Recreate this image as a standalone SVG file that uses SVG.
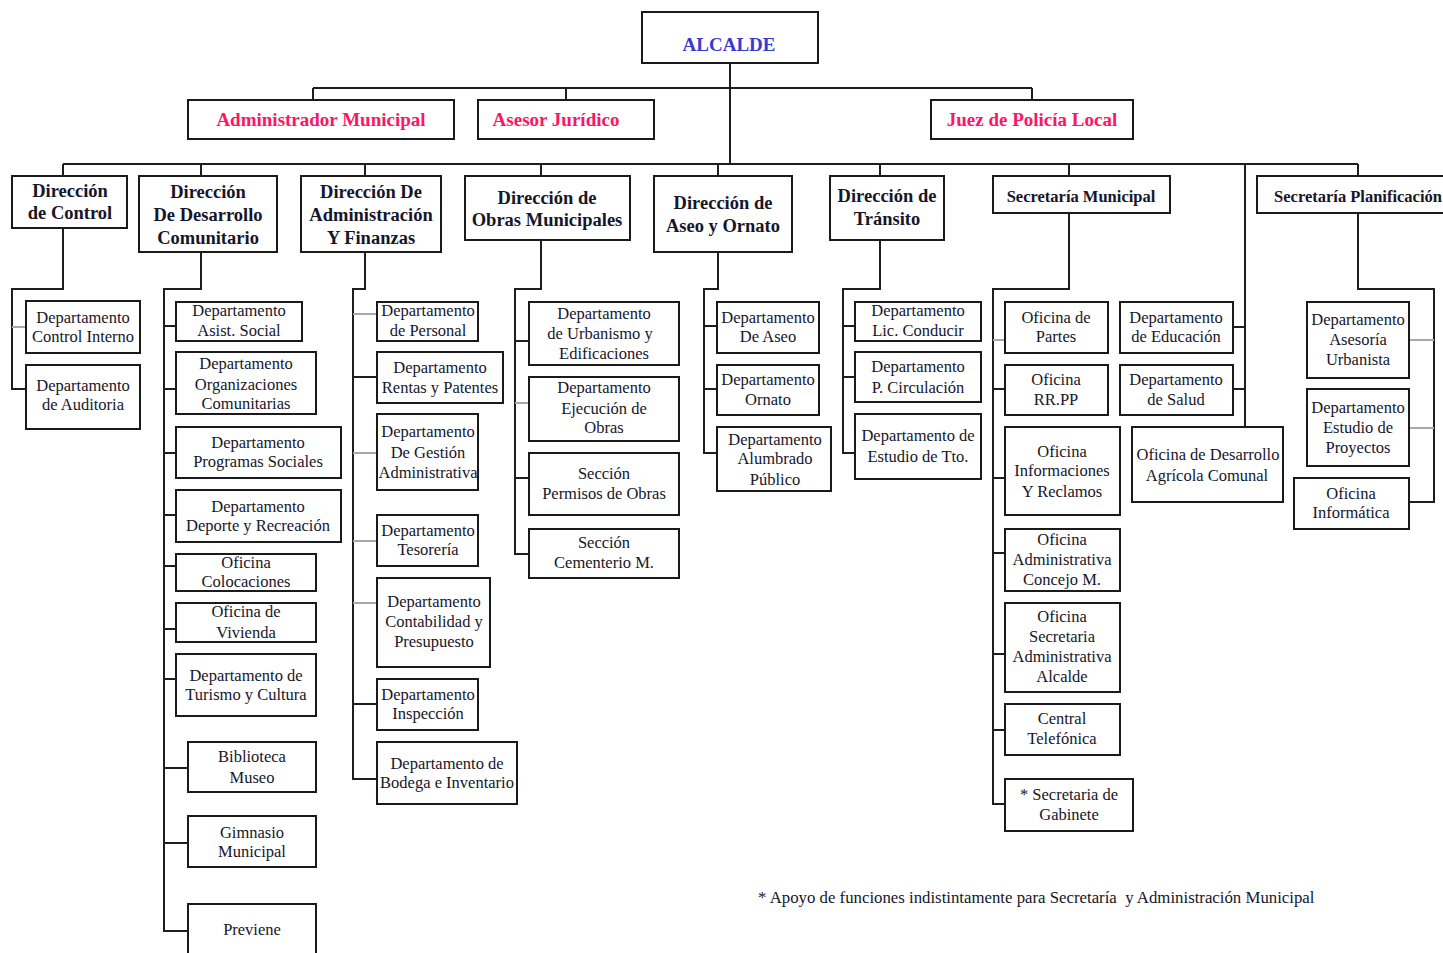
<svg xmlns="http://www.w3.org/2000/svg" width="1443" height="953" viewBox="0 0 1443 953">
<style>
.b{fill:#fff;stroke:#1a1a1a;stroke-width:2}
.t{font-family:"Liberation Serif","Times New Roman",serif;font-size:16.5px;fill:#16162a;text-anchor:middle}
.h{font-family:"Liberation Serif","Times New Roman",serif;font-size:18.5px;font-weight:bold;fill:#16162a;text-anchor:middle}
.s{font-family:"Liberation Serif","Times New Roman",serif;font-size:16.5px;font-weight:bold;fill:#16162a;text-anchor:middle}
.r{font-family:"Liberation Serif","Times New Roman",serif;font-size:19px;font-weight:bold;fill:#ff1466;text-anchor:middle}
.a{font-family:"Liberation Serif","Times New Roman",serif;font-size:19px;font-weight:bold;fill:#3a3ad0;text-anchor:middle}
.f{font-family:"Liberation Serif","Times New Roman",serif;font-size:16.8px;fill:#16162a}
.c{fill:none;stroke:#1e1e1e;stroke-width:2}
.g{fill:none;stroke:#a8a8a8;stroke-width:2}
</style>
<rect width="1443" height="953" fill="#fff"/>
<g id="connectors">
<path class="c" d="M730 63V164M313 88H1032M313 88V100M566 88V100M1032 88V100"/>
<path class="c" d="M63 164H1358M63 164V176M201 164V176M365 164V176M541 164V176M718 164V176M880 164V176M1069 164V176M1358 164V176M1245 164V427"/>
<path class="c" d="M63 228V289H12V389H26"/>
<path class="g" d="M12 327H26"/>
<path class="c" d="M201 252V289H164V931H188M164 326H176M164 389H176M164 453H176M164 515H176M164 566H176M164 629H176M164 679H176M164 768H188M164 843H188"/>
<path class="c" d="M365 252V289H353V779H377M353 377H377M353 704H377"/>
<path class="g" d="M353 314H377M353 453H377M353 541H377M353 603H377"/>
<path class="c" d="M541 240V289H515V554H529M515 341H529M515 478H529"/>
<path class="g" d="M515 403H529"/>
<path class="c" d="M718 252V289H704V453H717M704 326H717M704 389H717"/>
<path class="c" d="M880 240V289H843V453H855M843 326H855M843 377H855"/>
<path class="c" d="M1069 213V289H993V804H1005M993 389H1005M993 478H1005M993 553H1005M993 654H1005M993 730H1005"/>
<path class="g" d="M993 340H1005"/>
<path class="c" d="M1233 327H1245M1233 389H1245"/>
<path class="c" d="M1358 213V289H1434V502H1409"/>
<path class="g" d="M1434 340H1409M1434 428H1409"/>
</g>
<g id="alcalde"><rect class="b" x="642" y="12" width="176" height="51"/><text class="a" x="729" y="51">ALCALDE</text></g>
<g id="administrador"><rect class="b" x="188" y="100" width="266" height="39"/><text class="r" x="321" y="126">Administrador Municipal</text></g>
<g id="asesor"><rect class="b" x="478" y="100" width="176" height="39"/><text class="r" x="556" y="126">Asesor Jurídico</text></g>
<g id="juez"><rect class="b" x="931" y="100" width="202" height="39"/><text class="r" x="1032" y="126">Juez de Policía Local</text></g>
<g id="dir-control"><rect class="b" x="12" y="176" width="115" height="52"/><text class="h"><tspan x="70" y="197">Dirección</tspan><tspan x="70" y="219">de Control</tspan></text></g>
<g id="dir-desarrollo"><rect class="b" x="139" y="176" width="138" height="76"/><text class="h"><tspan x="208" y="198">Dirección</tspan><tspan x="208" y="221">De Desarrollo</tspan><tspan x="208" y="244">Comunitario</tspan></text></g>
<g id="dir-admin"><rect class="b" x="301" y="176" width="140" height="76"/><text class="h"><tspan x="371" y="198">Dirección De</tspan><tspan x="371" y="221">Administración</tspan><tspan x="371" y="244">Y Finanzas</tspan></text></g>
<g id="dir-obras"><rect class="b" x="465" y="176" width="165" height="64"/><text class="h"><tspan x="547" y="204">Dirección de</tspan><tspan x="547" y="226">Obras Municipales</tspan></text></g>
<g id="dir-aseo"><rect class="b" x="654" y="176" width="138" height="76"/><text class="h"><tspan x="723" y="209">Dirección de</tspan><tspan x="723" y="232">Aseo y Ornato</tspan></text></g>
<g id="dir-transito"><rect class="b" x="830" y="176" width="114" height="64"/><text class="h"><tspan x="887" y="202">Dirección de</tspan><tspan x="887" y="225">Tránsito</tspan></text></g>
<g id="sec-municipal"><rect class="b" x="993" y="176" width="177" height="37"/><text class="s" x="1081" y="202">Secretaría Municipal</text></g>
<g id="sec-planificacion"><rect class="b" x="1257" y="176" width="205" height="37"/><text class="s" x="1358" y="202">Secretaría Planificación</text></g>
<g id="d-control-interno"><rect class="b" x="26" y="301" width="114" height="52"/><text class="t"><tspan x="83" y="323">Departamento</tspan><tspan x="83" y="342">Control Interno</tspan></text></g>
<g id="d-auditoria"><rect class="b" x="26" y="365" width="114" height="64"/><text class="t"><tspan x="83" y="391">Departamento</tspan><tspan x="83" y="410">de Auditoria</tspan></text></g>
<g id="d-asist-social"><rect class="b" x="176" y="302" width="126" height="39"/><text class="t"><tspan x="239" y="316">Departamento</tspan><tspan x="239" y="336">Asist. Social</tspan></text></g>
<g id="d-organizaciones"><rect class="b" x="176" y="352" width="140" height="62"/><text class="t"><tspan x="246" y="369">Departamento</tspan><tspan x="246" y="390">Organizaciones</tspan><tspan x="246" y="409">Comunitarias</tspan></text></g>
<g id="d-programas"><rect class="b" x="176" y="427" width="165" height="51"/><text class="t"><tspan x="258" y="448">Departamento</tspan><tspan x="258" y="467">Programas Sociales</tspan></text></g>
<g id="d-deporte"><rect class="b" x="176" y="490" width="165" height="52"/><text class="t"><tspan x="258" y="512">Departamento</tspan><tspan x="258" y="531">Deporte y Recreación</tspan></text></g>
<g id="o-colocaciones"><rect class="b" x="176" y="554" width="140" height="37"/><text class="t"><tspan x="246" y="568">Oficina</tspan><tspan x="246" y="587">Colocaciones</tspan></text></g>
<g id="o-vivienda"><rect class="b" x="176" y="603" width="140" height="39"/><text class="t"><tspan x="246" y="617">Oficina de</tspan><tspan x="246" y="638">Vivienda</tspan></text></g>
<g id="d-turismo"><rect class="b" x="176" y="654" width="140" height="62"/><text class="t"><tspan x="246" y="681">Departamento de</tspan><tspan x="246" y="700">Turismo y Cultura</tspan></text></g>
<g id="biblioteca"><rect class="b" x="188" y="742" width="128" height="50"/><text class="t"><tspan x="252" y="762">Biblioteca</tspan><tspan x="252" y="783">Museo</tspan></text></g>
<g id="gimnasio"><rect class="b" x="188" y="816" width="128" height="51"/><text class="t"><tspan x="252" y="838">Gimnasio</tspan><tspan x="252" y="857">Municipal</tspan></text></g>
<g id="previene"><rect class="b" x="188" y="904" width="128" height="60"/><text class="t" x="252" y="935">Previene</text></g>
<g id="d-personal"><rect class="b" x="377" y="302" width="101" height="39"/><text class="t"><tspan x="428" y="316">Departamento</tspan><tspan x="428" y="336">de Personal</tspan></text></g>
<g id="d-rentas"><rect class="b" x="377" y="352" width="126" height="51"/><text class="t"><tspan x="440" y="373">Departamento</tspan><tspan x="440" y="393">Rentas y Patentes</tspan></text></g>
<g id="d-gestion"><rect class="b" x="377" y="414" width="101" height="76"/><text class="t"><tspan x="428" y="437">Departamento</tspan><tspan x="428" y="458">De Gestión</tspan><tspan x="428" y="478">Administrativa</tspan></text></g>
<g id="d-tesoreria"><rect class="b" x="377" y="515" width="101" height="51"/><text class="t"><tspan x="428" y="536">Departamento</tspan><tspan x="428" y="555">Tesorería</tspan></text></g>
<g id="d-contabilidad"><rect class="b" x="377" y="578" width="113" height="89"/><text class="t"><tspan x="434" y="607">Departamento</tspan><tspan x="434" y="627">Contabilidad y</tspan><tspan x="434" y="647">Presupuesto</tspan></text></g>
<g id="d-inspeccion"><rect class="b" x="377" y="679" width="101" height="51"/><text class="t"><tspan x="428" y="700">Departamento</tspan><tspan x="428" y="719">Inspección</tspan></text></g>
<g id="d-bodega"><rect class="b" x="377" y="742" width="140" height="62"/><text class="t"><tspan x="447" y="769">Departamento de</tspan><tspan x="447" y="788">Bodega e Inventario</tspan></text></g>
<g id="d-urbanismo"><rect class="b" x="529" y="302" width="150" height="63"/><text class="t"><tspan x="604" y="319">Departamento</tspan><tspan x="600" y="339">de  Urbanismo y</tspan><tspan x="604" y="359">Edificaciones</tspan></text></g>
<g id="d-ejecucion"><rect class="b" x="529" y="377" width="150" height="64"/><text class="t"><tspan x="604" y="393">Departamento</tspan><tspan x="604" y="414">Ejecución de</tspan><tspan x="604" y="433">Obras</tspan></text></g>
<g id="s-permisos"><rect class="b" x="529" y="453" width="150" height="62"/><text class="t"><tspan x="604" y="479">Sección</tspan><tspan x="604" y="499">Permisos de Obras</tspan></text></g>
<g id="s-cementerio"><rect class="b" x="529" y="529" width="150" height="49"/><text class="t"><tspan x="604" y="548">Sección</tspan><tspan x="604" y="568">Cementerio M.</tspan></text></g>
<g id="d-aseo"><rect class="b" x="717" y="302" width="102" height="51"/><text class="t"><tspan x="768" y="323">Departamento</tspan><tspan x="768" y="342">De Aseo</tspan></text></g>
<g id="d-ornato"><rect class="b" x="717" y="365" width="102" height="50"/><text class="t"><tspan x="768" y="385">Departamento</tspan><tspan x="768" y="405">Ornato</tspan></text></g>
<g id="d-alumbrado"><rect class="b" x="717" y="427" width="114" height="64"/><text class="t"><tspan x="775" y="445">Departamento</tspan><tspan x="775" y="464">Alumbrado</tspan><tspan x="775" y="485">Público</tspan></text></g>
<g id="d-licencias"><rect class="b" x="855" y="302" width="126" height="39"/><text class="t"><tspan x="918" y="316">Departamento</tspan><tspan x="918" y="336">Lic. Conducir</tspan></text></g>
<g id="d-circulacion"><rect class="b" x="855" y="352" width="126" height="50"/><text class="t"><tspan x="918" y="372">Departamento</tspan><tspan x="918" y="393">P. Circulación</tspan></text></g>
<g id="d-estudio-transito"><rect class="b" x="855" y="414" width="126" height="65"/><text class="t"><tspan x="918" y="441">Departamento de</tspan><tspan x="918" y="462">Estudio de Tto.</tspan></text></g>
<g id="o-partes"><rect class="b" x="1005" y="302" width="103" height="51"/><text class="t"><tspan x="1056" y="323">Oficina de</tspan><tspan x="1056" y="342">Partes</tspan></text></g>
<g id="o-rrpp"><rect class="b" x="1005" y="365" width="103" height="50"/><text class="t"><tspan x="1056" y="385">Oficina</tspan><tspan x="1056" y="405">RR.PP</tspan></text></g>
<g id="o-informaciones"><rect class="b" x="1005" y="427" width="115" height="88"/><text class="t"><tspan x="1062" y="457">Oficina</tspan><tspan x="1062" y="476">Informaciones</tspan><tspan x="1062" y="497">Y Reclamos</tspan></text></g>
<g id="o-concejo"><rect class="b" x="1005" y="529" width="115" height="62"/><text class="t"><tspan x="1062" y="545">Oficina</tspan><tspan x="1062" y="565">Administrativa</tspan><tspan x="1062" y="585">Concejo M.</tspan></text></g>
<g id="o-sec-alcalde"><rect class="b" x="1005" y="603" width="115" height="89"/><text class="t"><tspan x="1062" y="622">Oficina</tspan><tspan x="1062" y="642">Secretaria</tspan><tspan x="1062" y="662">Administrativa</tspan><tspan x="1062" y="682">Alcalde</tspan></text></g>
<g id="central-telefonica"><rect class="b" x="1005" y="704" width="115" height="51"/><text class="t"><tspan x="1062" y="724">Central</tspan><tspan x="1062" y="744">Telefónica</tspan></text></g>
<g id="sec-gabinete"><rect class="b" x="1005" y="779" width="128" height="52"/><text class="t"><tspan x="1069" y="800">* Secretaria de</tspan><tspan x="1069" y="820">Gabinete</tspan></text></g>
<g id="d-educacion"><rect class="b" x="1120" y="302" width="113" height="51"/><text class="t"><tspan x="1176" y="323">Departamento</tspan><tspan x="1176" y="342">de Educación</tspan></text></g>
<g id="d-salud"><rect class="b" x="1120" y="365" width="113" height="50"/><text class="t"><tspan x="1176" y="385">Departamento</tspan><tspan x="1176" y="405">de Salud</tspan></text></g>
<g id="o-agricola"><rect class="b" x="1132" y="427" width="151" height="75"/><text class="t"><tspan x="1208" y="460">Oficina de Desarrollo</tspan><tspan x="1207" y="481">Agrícola Comunal</tspan></text></g>
<g id="d-asesoria-urbanista"><rect class="b" x="1307" y="302" width="102" height="76"/><text class="t"><tspan x="1358" y="325">Departamento</tspan><tspan x="1358" y="345">Asesoría</tspan><tspan x="1358" y="365">Urbanista</tspan></text></g>
<g id="d-estudio-proyectos"><rect class="b" x="1307" y="389" width="102" height="77"/><text class="t"><tspan x="1358" y="413">Departamento</tspan><tspan x="1358" y="433">Estudio de</tspan><tspan x="1358" y="453">Proyectos</tspan></text></g>
<g id="o-informatica"><rect class="b" x="1294" y="478" width="115" height="51"/><text class="t"><tspan x="1351" y="499">Oficina</tspan><tspan x="1351" y="518">Informática</tspan></text></g>
<g id="footnote"><text class="f" x="758" y="903" xml:space="preserve">* Apoyo de funciones indistintamente para Secretaría  y Administración Municipal</text></g>
</svg>
